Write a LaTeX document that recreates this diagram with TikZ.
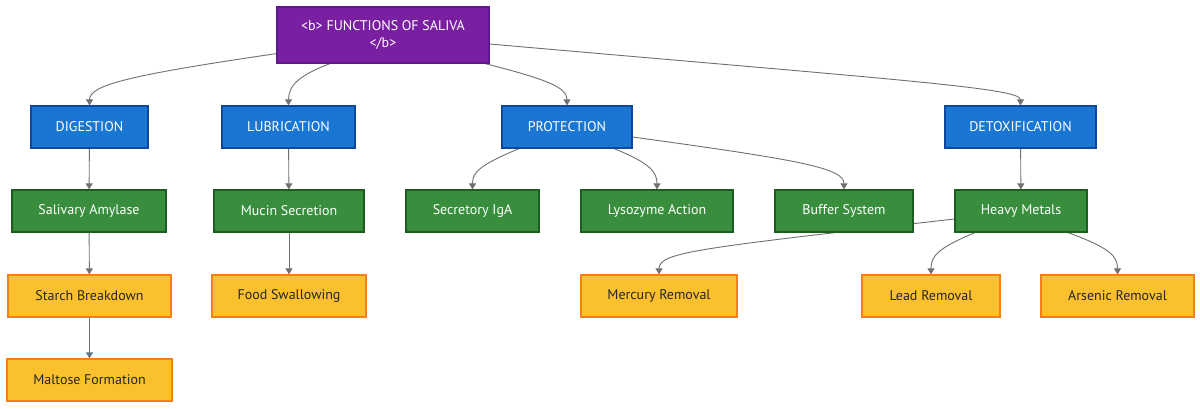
\documentclass[tikz,border=0pt]{standalone}
\usepackage{fontspec}
\setmainfont{PT Sans}
\usetikzlibrary{arrows.meta,backgrounds}
\definecolor{purpfill}{HTML}{7B1FA2}
\definecolor{purpline}{HTML}{5E1A8C}
\definecolor{bluefill}{HTML}{1976D2}
\definecolor{blueline}{HTML}{0D47A1}
\definecolor{greenfill}{HTML}{388E3C}
\definecolor{greenline}{HTML}{1B5E20}
\definecolor{yelfill}{HTML}{FBC02D}
\definecolor{yelline}{HTML}{F57F17}
\definecolor{edgecol}{HTML}{707070}
\tikzset{
  box/.style={draw, line width=1.2pt, minimum height=42pt, inner sep=0pt, align=center,
    font=\fontsize{14}{16.5}\selectfont},
  rootbox/.style={box, fill=purpfill, draw=purpline, text=white, minimum height=56pt},
  catbox/.style={box, fill=bluefill, draw=blueline, text=white},
  subbox/.style={box, fill=greenfill, draw=greenline, text=white},
  leafbox/.style={box, fill=yelfill, draw=yelline, text=black!85},
  link/.style={draw=edgecol, line width=0.9pt, -{Triangle[length=6pt,width=7pt]}},
}
\begin{document}
\begin{tikzpicture}[x=1pt,y=-1pt]
\useasboundingbox (0,0) rectangle (1200,408);

\node[rootbox, minimum width=212pt] (title) at (383,35) {<b> FUNCTIONS OF SALIVA\\</b>};

\node[catbox, minimum width=117pt] (dig) at (89.5,127) {DIGESTION};
\node[catbox, minimum width=133pt] (lub) at (288.5,127) {LUBRICATION};
\node[catbox, minimum width=130pt] (prot) at (567,127) {PROTECTION};
\node[catbox, minimum width=151pt] (detox) at (1020.5,127) {DETOXIFICATION};

\node[subbox, minimum width=154pt] (sal) at (89,211) {Salivary Amylase};
\node[subbox, minimum width=150pt] (muc) at (289,211) {Mucin Secretion};
\node[subbox, minimum width=133pt] (iga) at (472.5,211) {Secretory IgA};
\node[subbox, minimum width=152pt] (lys) at (657,211) {Lysozyme Action};
\node[subbox, minimum width=138pt] (buf) at (844,211) {Buffer System};
\node[subbox, minimum width=132pt] (heavy) at (1021,211) {Heavy Metals};

\node[leafbox, minimum width=163pt] (starch) at (89.5,296) {Starch Breakdown};
\node[leafbox, minimum width=154pt] (food) at (289,296) {Food Swallowing};
\node[leafbox, minimum width=156pt] (merc) at (659,296) {Mercury Removal};
\node[leafbox, minimum width=138pt] (lead) at (931,296) {Lead Removal};
\node[leafbox, minimum width=153pt] (ars) at (1117.5,296) {Arsenic Removal};

\node[leafbox, minimum width=165pt] (malt) at (89.5,380) {Maltose Formation};

\begin{scope}[on background layer]
\fill[white] (0,0) rectangle (1200,408);
% root to categories
\draw[link] ([yshift=10pt]title.south west) .. controls (130,75) and (89.5,85) .. (dig.north);
\draw[link] ([xshift=-53pt]title.south) .. controls (300,75) and (288.5,85) .. (lub.north);
\draw[link] ([xshift=102pt]title.south) .. controls (550,80) and (567,88) .. (prot.north);
\draw[link] ([yshift=-9pt]title.east) .. controls (900,80) and (1020.5,88) .. (detox.north);

% verticals
\draw[link] (dig) -- (sal);
\draw[link] (lub) -- (muc);
\draw[link] (detox) -- (heavy);
\draw[link] (sal) -- (starch);
\draw[link] (muc) -- (food);
\draw[link] (starch) -- (malt);

% protection branches
\draw[link] ([xshift=-48pt]prot.south) .. controls (480,165) and (472.5,172) .. (iga.north);
\draw[link] ([xshift=47pt]prot.south) .. controls (650,163) and (657,172) .. (lys.north);
\draw[link] ([yshift=-10pt]prot.east) .. controls (800,160) and (844,168) .. (buf.north);

% heavy metals branches
\draw[link] ([yshift=-8pt]heavy.west) .. controls (700,248) and (659,252) .. (merc.north);
\draw[link] ([xshift=-46pt]heavy.south) .. controls (938,248) and (931,256) .. (lead.north);
\draw[link] ([xshift=47pt]heavy.south) .. controls (1110,248) and (1117.5,256) .. (ars.north);
\end{scope}
\end{tikzpicture}
\end{document}
